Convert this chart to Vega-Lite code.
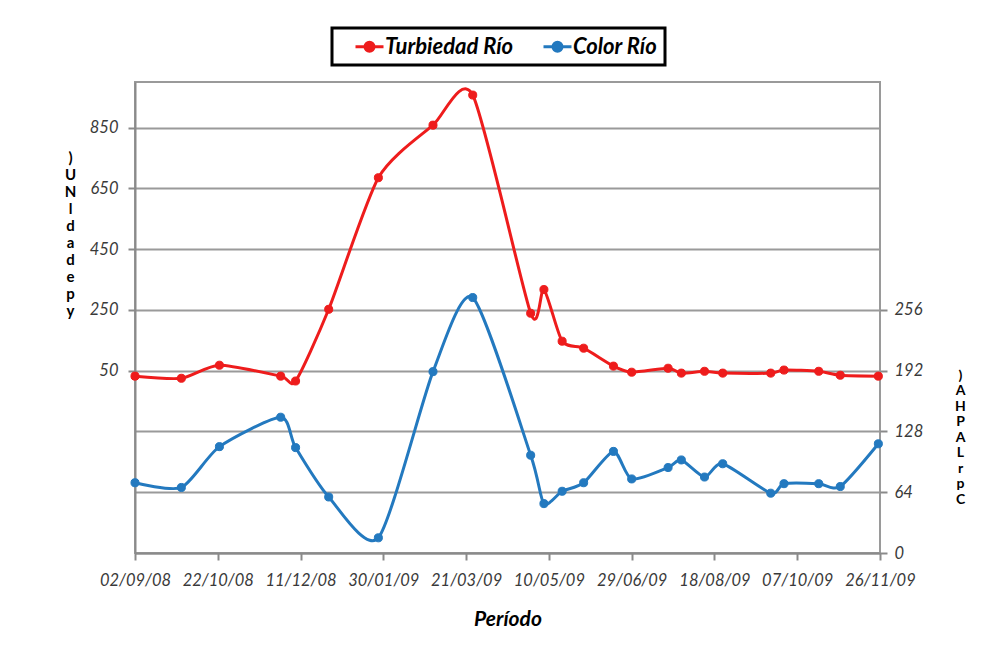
{
  "$schema": "https://vega.github.io/schema/vega-lite/v6.json",
  "width": 745,
  "height": 471,
  "autosize": {"type": "none"},
  "padding": {"left": 135, "top": 82, "right": 107, "bottom": 104},
  "background": "white",
  "config": {
    "view": {"stroke": "#9a9a9a", "strokeWidth": 2},
    "axis": {
      "labelFont": "Lato",
      "labelFontSize": 16.5,
      "labelFontStyle": "italic",
      "labelColor": "#3a3a3a",
      "domainColor": "#8a8a8a",
      "domainWidth": 2,
      "tickColor": "#8a8a8a",
      "tickWidth": 2,
      "gridColor": "#9a9a9a",
      "gridWidth": 2,
      "titleFont": "Lato"
    },
    "legend": {"strokeWidth": 3}
  },
  "datasets": {
    "turbiedad": [
      {"fecha": "2008-09-02", "valor": 32, "serie": "Turbiedad Río"},
      {"fecha": "2008-09-30", "valor": 25, "serie": "Turbiedad Río"},
      {"fecha": "2008-10-23", "valor": 68, "serie": "Turbiedad Río"},
      {"fecha": "2008-11-29", "valor": 32, "serie": "Turbiedad Río"},
      {"fecha": "2008-12-08", "valor": 16, "serie": "Turbiedad Río"},
      {"fecha": "2008-12-28", "valor": 252, "serie": "Turbiedad Río"},
      {"fecha": "2009-01-27", "valor": 685, "serie": "Turbiedad Río"},
      {"fecha": "2009-03-01", "valor": 858, "serie": "Turbiedad Río"},
      {"fecha": "2009-03-25", "valor": 957, "serie": "Turbiedad Río"},
      {"fecha": "2009-04-29", "valor": 239, "serie": "Turbiedad Río"},
      {"fecha": "2009-05-07", "valor": 317, "serie": "Turbiedad Río"},
      {"fecha": "2009-05-18", "valor": 147, "serie": "Turbiedad Río"},
      {"fecha": "2009-05-31", "valor": 124, "serie": "Turbiedad Río"},
      {"fecha": "2009-06-18", "valor": 65, "serie": "Turbiedad Río"},
      {"fecha": "2009-06-29", "valor": 45, "serie": "Turbiedad Río"},
      {"fecha": "2009-07-21", "valor": 58, "serie": "Turbiedad Río"},
      {"fecha": "2009-07-29", "valor": 42, "serie": "Turbiedad Río"},
      {"fecha": "2009-08-12", "valor": 48, "serie": "Turbiedad Río"},
      {"fecha": "2009-08-23", "valor": 42, "serie": "Turbiedad Río"},
      {"fecha": "2009-09-21", "valor": 42, "serie": "Turbiedad Río"},
      {"fecha": "2009-09-29", "valor": 52, "serie": "Turbiedad Río"},
      {"fecha": "2009-10-20", "valor": 48, "serie": "Turbiedad Río"},
      {"fecha": "2009-11-02", "valor": 35, "serie": "Turbiedad Río"},
      {"fecha": "2009-11-25", "valor": 32, "serie": "Turbiedad Río"}
    ],
    "color": [
      {"fecha": "2008-09-02", "valor": 74, "serie": "Color Río"},
      {"fecha": "2008-09-30", "valor": 69, "serie": "Color Río"},
      {"fecha": "2008-10-23", "valor": 112, "serie": "Color Río"},
      {"fecha": "2008-11-29", "valor": 143, "serie": "Color Río"},
      {"fecha": "2008-12-08", "valor": 111, "serie": "Color Río"},
      {"fecha": "2008-12-28", "valor": 59, "serie": "Color Río"},
      {"fecha": "2009-01-27", "valor": 16, "serie": "Color Río"},
      {"fecha": "2009-03-01", "valor": 191, "serie": "Color Río"},
      {"fecha": "2009-03-25", "valor": 269, "serie": "Color Río"},
      {"fecha": "2009-04-29", "valor": 103, "serie": "Color Río"},
      {"fecha": "2009-05-07", "valor": 52, "serie": "Color Río"},
      {"fecha": "2009-05-18", "valor": 65, "serie": "Color Río"},
      {"fecha": "2009-05-31", "valor": 74, "serie": "Color Río"},
      {"fecha": "2009-06-18", "valor": 107, "serie": "Color Río"},
      {"fecha": "2009-06-29", "valor": 78, "serie": "Color Río"},
      {"fecha": "2009-07-21", "valor": 90, "serie": "Color Río"},
      {"fecha": "2009-07-29", "valor": 98, "serie": "Color Río"},
      {"fecha": "2009-08-12", "valor": 80, "serie": "Color Río"},
      {"fecha": "2009-08-23", "valor": 94, "serie": "Color Río"},
      {"fecha": "2009-09-21", "valor": 63, "serie": "Color Río"},
      {"fecha": "2009-09-29", "valor": 73, "serie": "Color Río"},
      {"fecha": "2009-10-20", "valor": 73, "serie": "Color Río"},
      {"fecha": "2009-11-02", "valor": 70, "serie": "Color Río"},
      {"fecha": "2009-11-25", "valor": 115, "serie": "Color Río"}
    ]
  },
  "encoding": {
    "x": {
      "field": "fecha",
      "type": "temporal",
      "scale": {
        "type": "utc",
        "domain": [
          {"year": 2008, "month": 9, "date": 2, "utc": true},
          {"year": 2009, "month": 11, "date": 26, "utc": true}
        ]
      },
      "axis": {
        "values": [
          {"year": 2008, "month": 9, "date": 2, "utc": true},
          {"year": 2008, "month": 10, "date": 22, "utc": true},
          {"year": 2008, "month": 12, "date": 11, "utc": true},
          {"year": 2009, "month": 1, "date": 30, "utc": true},
          {"year": 2009, "month": 3, "date": 21, "utc": true},
          {"year": 2009, "month": 5, "date": 10, "utc": true},
          {"year": 2009, "month": 6, "date": 29, "utc": true},
          {"year": 2009, "month": 8, "date": 18, "utc": true},
          {"year": 2009, "month": 10, "date": 7, "utc": true},
          {"year": 2009, "month": 11, "date": 26, "utc": true}
        ],
        "format": "%d/%m/%y",
        "grid": false,
        "tickSize": 7,
        "labelPadding": 12,
        "labelFlush": false,
        "labelOverlap": false,
        "title": "Período",
        "titleFontSize": 21,
        "titleFontWeight": "bold",
        "titleFontStyle": "italic",
        "titleColor": "black",
        "titlePadding": 20
      }
    },
    "stroke": {
      "field": "serie",
      "type": "nominal",
      "scale": {"domain": ["Turbiedad Río", "Color Río"], "range": ["#ee1c1c", "#2379bf"]},
      "legend": {
        "orient": "none",
        "legendX": 197,
        "legendY": -54,
        "direction": "horizontal",
        "title": null,
        "strokeColor": "black",
        "fillColor": "white",
        "padding": 7,
        "symbolType": "M-1,0M0.5,0H3.3M1.45,0A0.45,0.45,0,1,1,2.35,0A0.45,0.45,0,1,1,1.45,0Z",
        "symbolSize": 400,
        "symbolStrokeWidth": 3,
        "symbolOpacity": 1,
        "labelFont": "Lato",
        "labelFontSize": 22,
        "labelFontWeight": "bold",
        "labelFontStyle": "italic",
        "labelColor": "black",
        "labelOffset": 23,
        "columnPadding": 8
      }
    }
  },
  "layer": [
    {
      "data": {"name": "turbiedad"},
      "encoding": {
        "y": {
          "field": "valor",
          "type": "quantitative",
          "scale": {"domain": [-550, 1000], "nice": false, "zero": false},
          "axis": {
            "orient": "left",
            "values": [-550, -350, -150, 50, 250, 450, 650, 850],
            "labelExpr": "datum.value >= 50 ? datum.label : ''",
            "tickColor": {"condition": {"test": "datum.value < 50", "value": "transparent"}, "value": "#8a8a8a"},
            "grid": true,
            "tickSize": 7,
            "labelPadding": 10,
            "format": "d",
            "title": [")", "U", "N", "l", "d", "a", "d", "e", "p", "y"],
            "titleAngle": 0,
            "titleX": -65,
            "titleY": 68,
            "titleAlign": "center",
            "titleBaseline": "top",
            "titleLineHeight": 17,
            "titleFontSize": 15,
            "titleFontWeight": "bold",
            "titleColor": "black"
          }
        }
      },
      "layer": [
        {"mark": {"type": "line", "interpolate": "cardinal", "tension": 0.3, "strokeWidth": 3}},
        {
          "mark": {"type": "point", "filled": true, "size": 65, "strokeWidth": 1, "opacity": 1},
          "encoding": {
            "fill": {
              "field": "serie",
              "type": "nominal",
              "scale": {"domain": ["Turbiedad Río", "Color Río"], "range": ["#ee1c1c", "#2379bf"]},
              "legend": null
            }
          }
        }
      ]
    },
    {
      "data": {"name": "color"},
      "encoding": {
        "y": {
          "field": "valor",
          "type": "quantitative",
          "scale": {"domain": [0, 496], "nice": false, "zero": false},
          "axis": {
            "orient": "right",
            "values": [0, 64, 128, 192, 256],
            "grid": false,
            "domain": false,
            "tickSize": 7,
            "labelPadding": 7,
            "format": "d",
            "title": [")", "A", "H", "P", "A", "L", "r", "p", "C"],
            "titleAngle": 0,
            "titleX": 80,
            "titleY": 286,
            "titleAlign": "center",
            "titleBaseline": "top",
            "titleLineHeight": 15.5,
            "titleFontSize": 14,
            "titleFontWeight": "bold",
            "titleColor": "black"
          }
        }
      },
      "layer": [
        {"mark": {"type": "line", "interpolate": "cardinal", "tension": 0.3, "strokeWidth": 3}},
        {
          "mark": {"type": "point", "filled": true, "size": 65, "strokeWidth": 1, "opacity": 1},
          "encoding": {
            "fill": {
              "field": "serie",
              "type": "nominal",
              "scale": {"domain": ["Turbiedad Río", "Color Río"], "range": ["#ee1c1c", "#2379bf"]},
              "legend": null
            }
          }
        }
      ]
    }
  ],
  "resolve": {"scale": {"y": "independent"}, "axis": {"y": "independent"}}
}
